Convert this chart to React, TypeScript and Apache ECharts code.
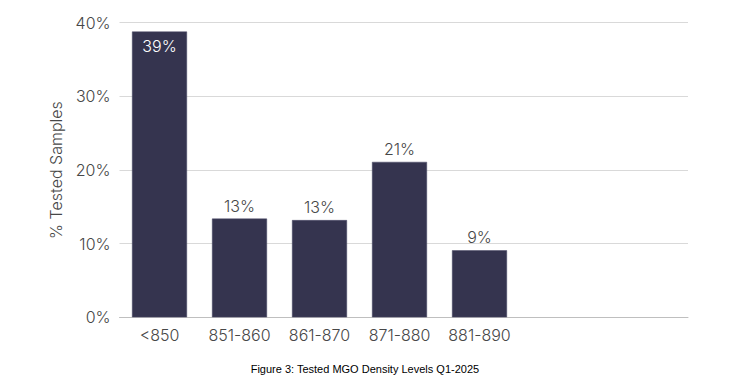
import React, { useEffect, useRef } from "react";
import * as echarts from "echarts";

const categories = ["<850", "851-860", "861-870", "871-880", "881-890", "", ""];
const values = [38.8, 13.4, 13.2, 21.1, 9.1];
const yTicks = [0, 10, 20, 30, 40];
const yAxisTitle = "% Tested Samples";
const caption = "Figure 3: Tested MGO Density Levels Q1-2025";

const FONT = "Inter, 'Open Sans', sans-serif";
const TEXT = "#474747";
const BAR = "#35344f";
const W = 300;

export default function App() {
  const ref = useRef<HTMLDivElement>(null);
  useEffect(() => {
    if (!ref.current) return;
    const chart = echarts.init(ref.current, undefined, { renderer: "svg" });
    const top = 22.7;
    const bottom = 385 - 317.3;
    chart.setOption({
      animation: false,
      backgroundColor: "#ffffff",
      textStyle: { fontFamily: FONT },
      grid: [
        { left: 119.5, right: 42, top, bottom, containLabel: false },
        { left: 119.5, width: 560, top, bottom, containLabel: false },
      ],
      xAxis: [
        {
          type: "value",
          gridIndex: 0,
          min: 0,
          max: 1,
          axisLine: { show: true, lineStyle: { color: "#bfbfbf", width: 1 } },
          axisTick: { show: false },
          axisLabel: { show: false },
          splitLine: { show: false },
        },
        {
          type: "category",
          gridIndex: 1,
          data: categories,
          axisLine: { show: false },
          axisTick: { show: false },
          axisLabel: { color: TEXT, fontSize: 16, fontWeight: W, fontFamily: FONT, margin: 10, interval: 0 },
          splitLine: { show: false },
        },
      ],
      yAxis: [
        {
          type: "value",
          gridIndex: 0,
          min: yTicks[0],
          max: yTicks[yTicks.length - 1],
          interval: 10,
          name: yAxisTitle,
          nameLocation: "middle",
          nameGap: 56,
          nameTextStyle: { color: TEXT, fontSize: 16, fontWeight: W, fontFamily: FONT },
          axisLine: { show: false },
          axisTick: { show: false },
          axisLabel: {
            color: TEXT,
            fontSize: 16,
            fontWeight: W,
            fontFamily: FONT,
            margin: 9,
            formatter: (v: number) => `${v}%`,
          },
          splitLine: { show: true, lineStyle: { color: "#d9d9d9", width: 1 } },
        },
        {
          type: "value",
          gridIndex: 1,
          min: yTicks[0],
          max: yTicks[yTicks.length - 1],
          interval: 10,
          show: false,
          splitLine: { show: false },
        },
      ],
      series: [
        {
          type: "bar",
          xAxisIndex: 1,
          yAxisIndex: 1,
          data: values.map((v, i) => ({
            value: v,
            label:
              i === 0
                ? { position: "insideTop", color: "#ffffff", distance: 6 }
                : { position: "top", color: TEXT, distance: 5 },
          })),
          barWidth: 55,
          itemStyle: { color: BAR, borderColor: "#4a4966", borderWidth: 0.5 },
          label: {
            show: true,
            fontSize: 16,
            fontWeight: W,
            fontFamily: FONT,
            formatter: (p: any) => `${Math.round(p.value)}%`,
          },
        },
      ],
      graphic: [
        {
          type: "text",
          left: "center",
          top: 363,
          style: {
            text: caption,
            fill: "#000000",
            font: "11px 'Liberation Sans', Arial, sans-serif",
          },
        },
      ],
    });
    return () => chart.dispose();
  }, []);
  return (
    <div
      ref={ref}
      style={{ position: "fixed", left: 0, top: 0, width: 730, height: 385 }}
    />
  );
}
